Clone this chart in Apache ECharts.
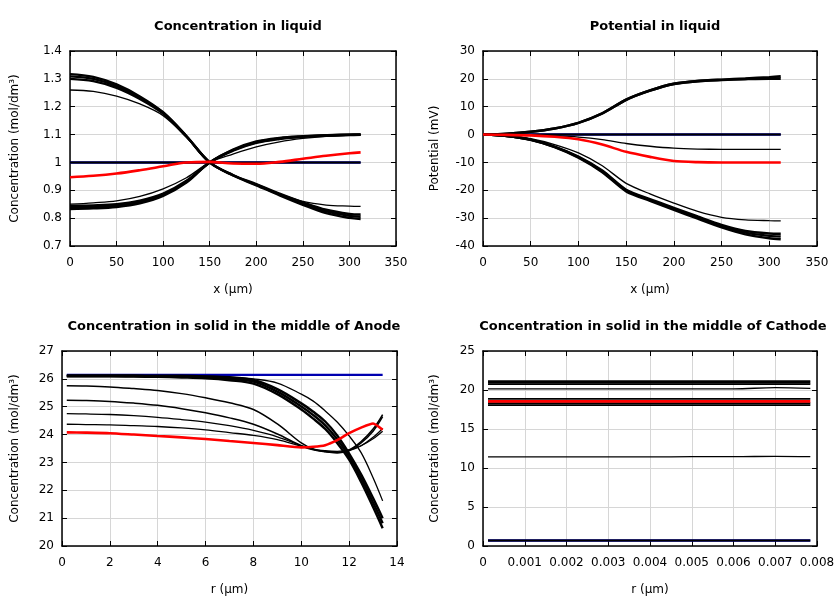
<!DOCTYPE html>
<html><head><meta charset="utf-8">
<script src="https://cdn.jsdelivr.net/npm/echarts@6/dist/echarts.min.js"></script>
<style>html,body{margin:0;padding:0;background:#fff}#c{width:840px;height:600px}</style>
</head><body><div id="c"></div>
<script>
// ---------- Panel 1: concentration in liquid ----------
const xLiq = [0,25,50,75,100,125,150,175,200,225,250,275,300,312];
const cInit = [1,1,1,1,1,1,1,1,1,1,1,1,1,1];
const cFlat = [1,1,1,1,1,1,1,1,1,1,1,1,1,1];
const cDescA = [1.317,1.307,1.280,1.237,1.180,1.095,1.000,0.955,0.922,0.888,0.857,0.830,0.815,0.813];
const cDescM = [1.309,1.300,1.274,1.232,1.178,1.094,1.000,0.954,0.920,0.885,0.852,0.824,0.808,0.805];
const cDescB = [1.300,1.292,1.268,1.228,1.175,1.093,1.000,0.953,0.918,0.882,0.848,0.818,0.801,0.797];
const cDescThin = [1.260,1.255,1.238,1.210,1.168,1.090,1.000,0.955,0.920,0.887,0.860,0.847,0.843,0.842];
const cAscA = [0.845,0.846,0.850,0.863,0.888,0.934,1.000,1.046,1.075,1.088,1.094,1.098,1.100,1.100];
const cAscM = [0.839,0.840,0.845,0.858,0.884,0.931,1.000,1.044,1.072,1.086,1.093,1.097,1.099,1.100];
const cAscB = [0.833,0.835,0.840,0.853,0.880,0.928,1.000,1.042,1.070,1.084,1.092,1.096,1.098,1.099];
const cAscThin = [0.850,0.855,0.862,0.878,0.905,0.945,1.000,1.030,1.056,1.074,1.086,1.094,1.098,1.100];
const cRed = [0.947,0.952,0.960,0.972,0.986,1.000,1.002,0.996,0.995,1.002,1.013,1.024,1.033,1.036];

// ---------- Panel 2: potential in liquid ----------
const pInit = [0,0,0,0,0,0,0,0,0,0,0,0,0,0];
const pFlat = [0,0,0,0,0,0,0,0,0,0,0,0,0,0];
const pUpA = [0,0.3,1.0,2.2,4.2,7.6,12.5,15.8,18.2,19.2,19.7,20.1,20.6,20.9];
const pUpB = [0,0.3,1.0,2.2,4.2,7.6,12.5,15.8,18.2,19.2,19.6,19.9,20.1,20.1];
const pThin = [0,-0.1,-0.3,-0.5,-0.9,-1.8,-3.2,-4.2,-4.9,-5.2,-5.3,-5.3,-5.3,-5.3];
const pRed = [0,-0.1,-0.3,-0.8,-1.7,-3.6,-6.2,-8.0,-9.5,-9.9,-10,-10,-10,-10];
const pLowThin = [0,-0.4,-1.5,-3.6,-6.6,-11.2,-17.5,-21.3,-24.6,-27.6,-29.7,-30.6,-30.9,-31.0];
const pLowA = [0,-0.5,-1.8,-4.3,-7.9,-12.9,-19.8,-23.2,-26.3,-29.4,-32.4,-34.6,-35.5,-35.6];
const pLowM = [0,-0.5,-1.85,-4.4,-8.1,-13.2,-20.1,-23.5,-26.65,-29.8,-32.85,-35.2,-36.35,-36.6];
const pLowB = [0,-0.5,-1.9,-4.5,-8.3,-13.5,-20.4,-23.8,-27.0,-30.2,-33.3,-35.8,-37.2,-37.6];

// ---------- Panel 3: solid, anode ----------
const rA = [0.2,1,2,3,4,5,6,7,8,9,10,10.5,11,11.5,12,12.5,13,13.4];
const aInit = [26.14,26.14,26.14,26.14,26.14,26.14,26.14,26.14,26.14,26.14,26.14,26.14,26.14,26.14,26.14,26.14,26.14,26.14];
const aTopA = [26.12,26.12,26.12,26.12,26.11,26.11,26.09,26.04,25.96,25.63,25.12,24.82,24.47,23.97,23.32,22.57,21.72,21.0];
const aTopM = [26.105,26.105,26.105,26.10,26.09,26.08,26.055,26.00,25.90,25.54,25.01,24.70,24.33,23.83,23.21,22.43,21.56,20.82];
const aTopB = [26.09,26.09,26.09,26.08,26.07,26.05,26.02,25.95,25.83,25.45,24.90,24.57,24.20,23.70,23.10,22.30,21.40,20.64];
const aTopThin = [26.11,26.11,26.11,26.11,26.11,26.11,26.10,26.08,26.00,25.85,25.45,25.20,24.85,24.45,23.95,23.35,22.45,21.62];
const aC1 = [25.75,25.74,25.71,25.65,25.58,25.47,25.32,25.14,24.90,24.38,23.70,23.48,23.39,23.35,23.45,23.75,24.20,24.72];
const aC2 = [25.23,25.22,25.19,25.13,25.05,24.93,24.78,24.60,24.37,24.02,23.60,23.45,23.38,23.35,23.43,23.70,24.12,24.64];
const aC3 = [24.75,24.74,24.72,24.68,24.62,24.54,24.45,24.32,24.15,23.92,23.60,23.47,23.40,23.36,23.42,23.60,23.90,24.22];
const aC4 = [24.37,24.36,24.35,24.32,24.29,24.24,24.17,24.07,23.97,23.82,23.58,23.47,23.42,23.40,23.45,23.60,23.85,24.12];
const aRed = [24.08,24.07,24.05,24.00,23.95,23.90,23.84,23.77,23.70,23.62,23.54,23.56,23.62,23.80,24.05,24.25,24.40,24.17];

// ---------- Panel 4: solid, cathode ----------
const xC = [0.00012,0.001,0.002,0.003,0.004,0.005,0.006,0.007,0.00784];
const kInit = [0.7,0.7,0.7,0.7,0.7,0.7,0.7,0.7,0.7];
const kLow = [0.7,0.7,0.7,0.7,0.7,0.7,0.7,0.7,0.7];
const k1 = [21.15,21.15,21.15,21.15,21.15,21.15,21.15,21.15,21.15];
const k2 = [20.95,20.95,20.95,20.95,20.95,20.95,20.95,20.95,20.95];
const k3 = [20.75,20.75,20.75,20.75,20.75,20.75,20.75,20.75,20.75];
const kThin = [20.15,20.15,20.15,20.15,20.15,20.15,20.15,20.3,20.2];
const k4 = [18.85,18.85,18.85,18.85,18.85,18.85,18.85,18.85,18.85];
const kRed = [18.55,18.55,18.55,18.55,18.55,18.55,18.55,18.55,18.55];
const k5 = [18.3,18.3,18.3,18.3,18.3,18.3,18.3,18.3,18.3];
const k6 = [18.05,18.05,18.05,18.05,18.05,18.05,18.05,18.05,18.05];
const kMid = [11.42,11.42,11.42,11.42,11.42,11.45,11.45,11.5,11.45];

// ---------- tick settings ----------
const titles = ['Concentration in liquid','Potential in liquid','Concentration in solid in the middle of Anode','Concentration in solid in the middle of Cathode'];
const xNames = ['x (µm)','x (µm)','r (µm)','r (µm)'];
const yNames = ['Concentration (mol/dm³)','Potential (mV)','Concentration (mol/dm³)','Concentration (mol/dm³)'];
const xRange = [[0,350,50],[0,350,50],[0,14,2],[0,0.008,0.001]];
const yRange = [[0.7,1.4,0.1],[-40,30,10],[20,27,1],[0,25,5]];

const FONT = 'DejaVu Sans';
const BLACK = '#000000', RED = '#ff0000', BLUE = '#0000b0';
const grids = [
  {left:70, top:51, width:326, height:195},
  {left:483, top:51, width:334, height:195},
  {left:62, top:351, width:335, height:195},
  {left:483, top:351, width:334, height:195}
];
const yGaps = [49, 42, 41, 42];

const xAxes = [], yAxes = [];
function fmtX(i){ return v => i===3 ? (v===0?'0':v.toFixed(3)) : String(Math.round(v)); }
function fmtY(i){ return v => i===0 ? String(Math.round(v*10)/10) : String(Math.round(v)); }
for (let i=0;i<4;i++){
  xAxes.push({type:'value', gridIndex:i, min:xRange[i][0], max:xRange[i][1], interval:xRange[i][2],
    name:xNames[i], nameLocation:'middle', nameGap:38,
    nameTextStyle:{fontFamily:FONT, fontSize:12, color:'#000'},
    axisLine:{show:true, onZero:false, lineStyle:{color:'#000', width:1.5}},
    axisTick:{show:true, inside:true, length:5, lineStyle:{color:'#000', width:1}},
    axisLabel:{fontFamily:FONT, fontSize:12, color:'#000', margin:11, formatter:fmtX(i)},
    splitLine:{show:true, lineStyle:{color:'#d6d6d6', width:1}}});
  yAxes.push({type:'value', gridIndex:i, min:yRange[i][0], max:yRange[i][1], interval:yRange[i][2],
    name:yNames[i], nameLocation:'middle', nameGap:yGaps[i], nameRotate:90,
    nameTextStyle:{fontFamily:FONT, fontSize:12, color:'#000'},
    axisLine:{show:true, onZero:false, lineStyle:{color:'#000', width:1.5}},
    axisTick:{show:true, inside:true, length:5, lineStyle:{color:'#000', width:1}},
    axisLabel:{fontFamily:FONT, fontSize:12, color:'#000', margin:8, formatter:fmtY(i)},
    splitLine:{show:true, lineStyle:{color:'#d6d6d6', width:1}}});
}
for (let i=0;i<4;i++){
  xAxes.push({type:'value', gridIndex:i, position:'top', min:xRange[i][0], max:xRange[i][1], interval:xRange[i][2],
    axisLine:{show:true, onZero:false, lineStyle:{color:'#000', width:1.5}},
    axisTick:{show:true, inside:true, length:5, lineStyle:{color:'#000', width:1}},
    axisLabel:{show:false}, splitLine:{show:false}});
  yAxes.push({type:'value', gridIndex:i, position:'right', min:yRange[i][0], max:yRange[i][1], interval:yRange[i][2],
    axisLine:{show:true, onZero:false, lineStyle:{color:'#000', width:1.5}},
    axisTick:{show:true, inside:true, length:5, lineStyle:{color:'#000', width:1}},
    axisLabel:{show:false}, splitLine:{show:false}});
}

const series = [];
function addLine(g, xs, ys, color, width, z, smooth){
  series.push({type:'line', xAxisIndex:g, yAxisIndex:g, data: xs.map((x,k)=>[x, ys[k]]),
    showSymbol:false, symbol:'none', smooth: smooth===undefined ? 0.35 : smooth, silent:true,
    lineStyle:{color:color, width:width}, itemStyle:{color:color}, z:z, animation:false});
}
// panel 1
addLine(0, xLiq, cInit, BLUE, 2.4, 2);
addLine(0, xLiq, cFlat, BLACK, 2, 3);
addLine(0, xLiq, cDescA, BLACK, 2.4, 3);
addLine(0, xLiq, cDescM, BLACK, 2.4, 3);
addLine(0, xLiq, cDescB, BLACK, 2.4, 3);
addLine(0, xLiq, cDescThin, BLACK, 1.3, 3);
addLine(0, xLiq, cAscA, BLACK, 2.4, 3);
addLine(0, xLiq, cAscM, BLACK, 2.4, 3);
addLine(0, xLiq, cAscB, BLACK, 2.4, 3);
addLine(0, xLiq, cAscThin, BLACK, 1.3, 3);
addLine(0, xLiq, cRed, RED, 2.6, 4);
// panel 2
addLine(1, xLiq, pInit, BLUE, 2.4, 2);
addLine(1, xLiq, pFlat, BLACK, 2, 3);
addLine(1, xLiq, pUpA, BLACK, 2.6, 3, 0.25);
addLine(1, xLiq, pUpB, BLACK, 2.6, 3, 0.25);
addLine(1, xLiq, pThin, BLACK, 1.3, 3, 0.25);
addLine(1, xLiq, pLowThin, BLACK, 1.3, 3, 0.25);
addLine(1, xLiq, pLowA, BLACK, 2.4, 3, 0.25);
addLine(1, xLiq, pLowM, BLACK, 2.4, 3, 0.25);
addLine(1, xLiq, pLowB, BLACK, 2.4, 3, 0.25);
addLine(1, xLiq, pRed, RED, 2.6, 4, 0.25);
// panel 3
addLine(2, rA, aInit, BLUE, 2.2, 2);
addLine(2, rA, aTopA, BLACK, 2.4, 3);
addLine(2, rA, aTopM, BLACK, 2.4, 3);
addLine(2, rA, aTopB, BLACK, 2.4, 3);
addLine(2, rA, aTopThin, BLACK, 1.3, 3);
addLine(2, rA, aC1, BLACK, 1.5, 3);
addLine(2, rA, aC2, BLACK, 1.5, 3);
addLine(2, rA, aC3, BLACK, 1.3, 3);
addLine(2, rA, aC4, BLACK, 1.3, 3);
addLine(2, rA, aRed, RED, 2.6, 4, 0.2);
// panel 4
addLine(3, xC, kInit, BLUE, 2.4, 2);
addLine(3, xC, kLow, BLACK, 2, 3);
addLine(3, xC, k1, BLACK, 1.8, 3);
addLine(3, xC, k2, BLACK, 1.8, 3);
addLine(3, xC, k3, BLACK, 1.8, 3);
addLine(3, xC, kThin, BLACK, 1.3, 3);
addLine(3, xC, k4, BLACK, 1.8, 3);
addLine(3, xC, k5, BLACK, 1.8, 3);
addLine(3, xC, k6, BLACK, 1.8, 3);
addLine(3, xC, kMid, BLACK, 1.3, 3);
addLine(3, xC, kRed, RED, 2.8, 4);

const titleCenters = [[233,15],[650,15],[229,315],[648,315]];
const chart = echarts.init(document.getElementById('c'), null, {renderer:'canvas'});
chart.setOption({
  animation:false,
  backgroundColor:'#ffffff',
  title: titles.map((t,i)=>({text:t, left:titleCenters[i][0], top:titleCenters[i][1], textAlign:'center',
    textStyle:{fontFamily:FONT, fontSize:13, fontWeight:'bold', color:'#000'}})),
  grid: grids,
  xAxis: xAxes,
  yAxis: yAxes,
  series: series
});
</script>
</body></html>
